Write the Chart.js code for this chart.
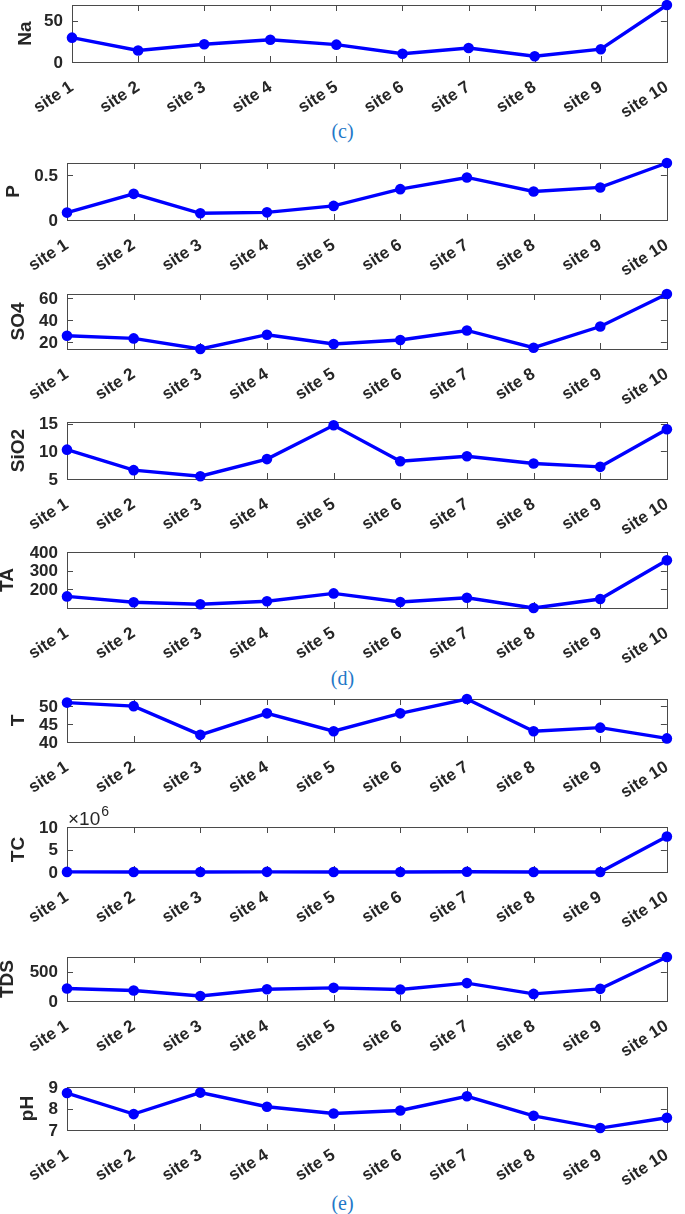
<!DOCTYPE html>
<html><head><meta charset="utf-8">
<script src="https://cdn.jsdelivr.net/npm/chart.js@4/dist/chart.umd.min.js"></script>
<style>
html,body{margin:0;padding:0;background:#fff;}
body{width:685px;height:1214px;position:relative;overflow:hidden;}
canvas{position:absolute;left:0;}
.cap{position:absolute;left:0;width:685px;text-align:center;font-family:"Liberation Serif","Times New Roman",serif;font-size:20px;line-height:24px;color:#1f78c8;}
</style></head><body>
<div class="cap" style="top:119px">(c)</div>
<div class="cap" style="top:666px">(d)</div>
<div class="cap" style="top:1191px">(e)</div>
<script>
// ---- data ----
const sites = ['site 1','site 2','site 3','site 4','site 5','site 6','site 7','site 8','site 9','site 10'];
const naValues   = [29.5, 14, 21.5, 27, 21, 10, 17, 7, 15.5, 69];
const pValues    = [0.083, 0.293, 0.075, 0.086, 0.158, 0.346, 0.477, 0.32, 0.365, 0.639];
const so4Values  = [25.8, 23.3, 13.6, 26.7, 18.2, 21.8, 30.6, 14.8, 34.2, 64];
const sio2Values = [10.3, 6.6, 5.5, 8.6, 14.7, 8.2, 9.1, 7.8, 7.2, 14.0];
const taValues   = [163, 132, 121, 137, 179, 133, 156, 101, 149, 356];
const tValues    = [51, 50, 42, 48, 43, 48, 52, 43, 44, 41];
const tcValues   = [20000, 15000, 9000, 35000, 11000, 8000, 60000, 12000, 7000, 7900000];
const tdsValues  = [213, 178, 86, 201, 224, 195, 305, 121, 207, 750];
const phValues   = [8.72, 7.74, 8.74, 8.08, 7.77, 7.91, 8.57, 7.66, 7.09, 7.57];

const naTicks   = [0, 50];
const pTicks    = [0, 0.5];
const so4Ticks  = [20, 40, 60];
const sio2Ticks = [5, 10, 15];
const taTicks   = [200, 300, 400];
const tTicks    = [40, 45, 50];
const tcTicks   = [0, 5000000, 10000000];
const tdsTicks  = [0, 500];
const phTicks   = [7, 8, 9];

const panelNames = ['Na', 'P', 'SO4', 'SiO2', 'TA', 'T', 'TC', 'TDS', 'pH'];
const yMins = [0, 0, 13.6, 5, 101, 40, 0, 0, 7];
const yMaxs = [69, 0.639, 64, 15.3, 400, 52, 10000000, 750, 9];

// ---- layout (pixel boxes: top, bottom, left, right; title centre x) ----
const boxes = [
  [5, 62, 72, 675], [163, 220, 67, 678], [294, 349, 67, 678], [422, 479, 67, 678],
  [552, 608, 67, 678], [699, 742, 67, 678], [827, 872, 67, 678], [957, 1001, 67, 678],
  [1087, 1130, 67, 678]
];
const titleCx = [26, 14, 19, 19, 8, 19, 19, 8, 28];

const seriesList = [naValues, pValues, so4Values, sio2Values, taValues, tValues, tcValues, tdsValues, phValues];
const tickList = [naTicks, pTicks, so4Ticks, sio2Ticks, taTicks, tTicks, tcTicks, tdsTicks, phTicks];

const AXC = '#262626';
const FONT = '"Liberation Sans", Arial, sans-serif';
const XH = 74, TICKLEN = 6, YLABGAP = 9;

const boxPlugin = {
  id: 'boxPlugin',
  beforeDatasetsDraw(chart) {
    const {ctx, chartArea: a, scales} = chart;
    const cfg = chart.options.plugins.boxPlugin || {};
    const div = cfg.divisor || 1;
    ctx.save();
    ctx.strokeStyle = '#4a4a4a';
    ctx.lineWidth = 1;
    ctx.strokeRect(Math.round(a.left) + 0.5, Math.round(a.top) + 0.5, Math.round(a.right - a.left), Math.round(a.bottom - a.top));
    ctx.beginPath();
    scales.x.ticks.forEach((t, i) => {
      const x = Math.round(scales.x.getPixelForTick(i)) + 0.5;
      ctx.moveTo(x, a.bottom); ctx.lineTo(x, a.bottom - TICKLEN);
      ctx.moveTo(x, a.top); ctx.lineTo(x, a.top + TICKLEN);
    });
    scales.y.ticks.forEach((t) => {
      const y = Math.round(scales.y.getPixelForValue(t.value)) + 0.5;
      ctx.moveTo(a.left, y); ctx.lineTo(a.left + TICKLEN, y);
      ctx.moveTo(a.right, y); ctx.lineTo(a.right - TICKLEN, y);
    });
    ctx.stroke();
    // y tick labels, positioned by the library's y scale
    ctx.fillStyle = AXC;
    ctx.font = 'bold 17px ' + FONT;
    ctx.textAlign = 'right';
    ctx.textBaseline = 'middle';
    scales.y.ticks.forEach((t) => {
      const y = scales.y.getPixelForValue(t.value);
      ctx.fillText(String(t.value / div), a.left - YLABGAP, y + 1);
    });
    if (cfg.expo) {
      ctx.textBaseline = 'alphabetic';
      ctx.textAlign = 'left';
      ctx.font = '19px ' + FONT;
      const s = '\u00d710';
      ctx.fillText(s, a.left + 1, a.top - 2);
      const w = ctx.measureText(s).width;
      ctx.font = '14px ' + FONT;
      ctx.fillText('6', a.left + 1 + w + 1, a.top - 11);
    }
    ctx.restore();
  }
};

panelNames.forEach((name, k) => {
  const [top, bottom, left, right] = boxes[k];
  const padTop = 30;
  const h = (bottom - top) + padTop + XH;
  const cv = document.createElement('canvas');
  cv.width = 685; cv.height = h;
  cv.style.top = (top - padTop) + 'px';
  cv.style.width = '685px'; cv.style.height = h + 'px';
  document.body.appendChild(cv);
  const tickVals = tickList[k];
  const isTC = name === 'TC';
  new Chart(cv, {
    type: 'line',
    data: {
      labels: sites,
      datasets: [{
        data: seriesList[k],
        borderColor: '#0000ff',
        backgroundColor: '#0000ff',
        borderWidth: 3.4,
        pointRadius: 5.3,
        pointBorderWidth: 0,
        pointHoverRadius: 5.3,
        tension: 0,
        clip: false
      }]
    },
    options: {
      responsive: false,
      maintainAspectRatio: false,
      animation: false,
      events: [],
      layout: { padding: { top: padTop, right: 685 - right, left: 0, bottom: 0 } },
      plugins: {
        legend: { display: false }, tooltip: { enabled: false },
        boxPlugin: { expo: isTC, divisor: isTC ? 1000000 : 1 }
      },
      scales: {
        x: {
          offset: false,
          grid: { display: false },
          border: { display: false },
          ticks: {
            autoSkip: false, maxRotation: 33, minRotation: 33, padding: 7,
            color: AXC, font: { family: FONT, size: 17, weight: 'bold' }
          },
          afterFit(s) { s.height = XH; }
        },
        y: {
          min: yMins[k], max: yMaxs[k],
          grid: { display: false },
          border: { display: false },
          afterBuildTicks(s) { s.ticks = tickVals.map(v => ({ value: v })); },
          ticks: { display: false, autoSkip: false },
          title: {
            display: true, text: name, color: AXC,
            font: { family: FONT, size: 19, weight: 'bold' },
            padding: { top: titleCx[k] - 11.4, bottom: 0 }
          },
          afterFit(s) { s.width = left; }
        }
      }
    },
    plugins: [boxPlugin]
  });
});
</script>
</body></html>
